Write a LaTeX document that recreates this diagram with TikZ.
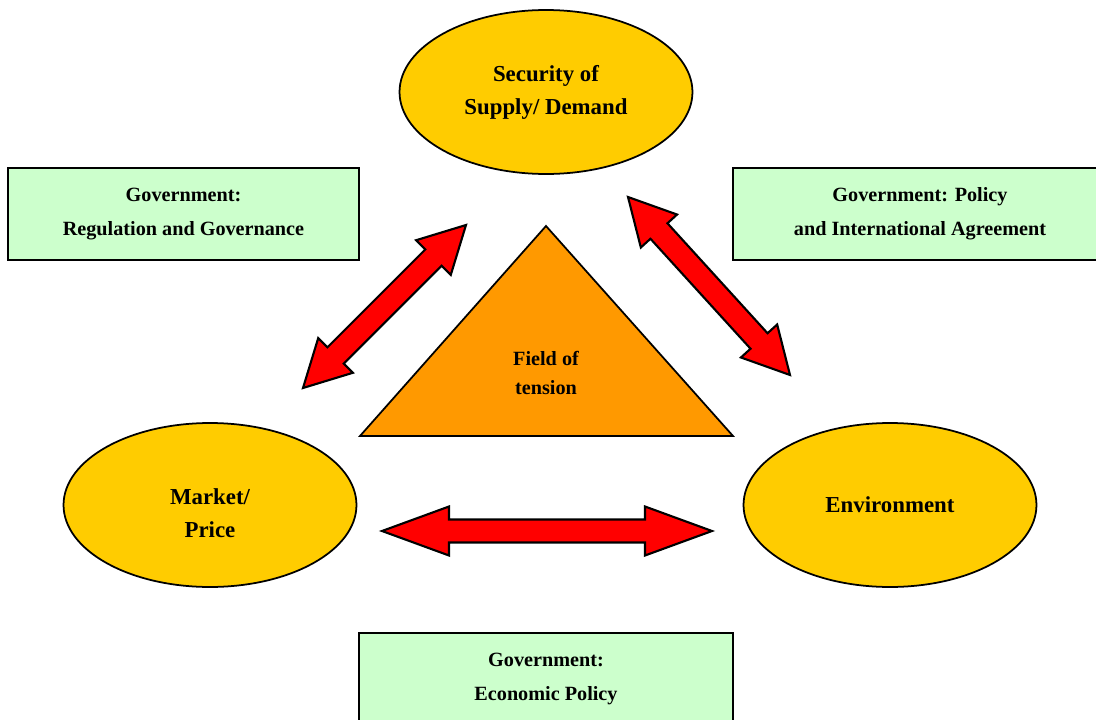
\documentclass[tikz,border=0pt]{standalone}
\usepackage{fontspec}
\setmainfont{Liberation Serif}
\usetikzlibrary{shapes.geometric,calc}

\definecolor{gold}{HTML}{FFCC00}
\definecolor{tensionorange}{HTML}{FF9900}
\definecolor{govgreen}{HTML}{CCFFCC}

% double headed block arrow between two tips, #3 = head length
\newcommand{\fatarrow}[3]{%
  \draw[fat] (#1)
    -- ($(#1)!#3!(#2)!0.49cm!90:(#2)$) -- ($(#1)!#3!(#2)!0.23cm!90:(#2)$)
    -- ($(#2)!#3!(#1)!0.23cm!-90:(#1)$) -- ($(#2)!#3!(#1)!0.49cm!-90:(#1)$)
    -- (#2)
    -- ($(#2)!#3!(#1)!0.49cm!90:(#1)$) -- ($(#2)!#3!(#1)!0.23cm!90:(#1)$)
    -- ($(#1)!#3!(#2)!0.23cm!-90:(#2)$) -- ($(#1)!#3!(#2)!0.49cm!-90:(#2)$)
    -- cycle;}

\begin{document}
\begin{tikzpicture}[x=0.02cm,y=-0.02cm,
    pillar/.style={ellipse,draw,line width=1pt,fill=gold,minimum width=5.86cm,minimum height=3.28cm,
        align=center,font=\fontsize{13}{18.7}\selectfont\bfseries},
    pillartext/.style={align=center,font=\fontsize{13}{18.7}\selectfont\bfseries},
    govbox/.style={rectangle,draw,line width=1pt,fill=govgreen,minimum height=1.84cm,
        align=center,font=\fontsize{11.5}{19.3}\selectfont\bfseries},
    fat/.style={draw,line width=1.2pt,fill=red,line join=miter}]
    \useasboundingbox (0,0) rectangle (1096,720);

    % the three poles
    \node[pillar] (supply) at (546,92) {Security of\\Supply/ Demand};
    \node[pillar] (market) at (210,505) {};
    \node[pillartext] (marketlabel) at (210,513) {Market/\\Price};
    \node[pillar] (environment) at (890,505) {Environment};

    % field of tension in the middle
    \draw[line width=1pt,fill=tensionorange,line join=miter] (546,226) -- (733,436) -- (360,436) -- cycle;
    \node[align=center,font=\fontsize{11.5}{16.4}\selectfont\bfseries] (field) at (546,373) {Field of\\tension};

    % government boxes
    \node[govbox,minimum width=7.02cm] (regulation) at (183.5,214) {Government:\\Regulation and Governance};
    \node[govbox,minimum width=7.48cm] (policy) at (920,214) {Government: Policy\\and International Agreement};
    \node[govbox,minimum width=7.48cm] (economic) at (546,679) {Government:\\Economic Policy};

    % arrow tips
    \coordinate (la1) at (303,388); \coordinate (la2) at (466,225);
    \coordinate (ra1) at (628,197); \coordinate (ra2) at (790,375);
    \coordinate (ha1) at (382,531); \coordinate (ha2) at (712,531);

    \fatarrow{la1}{la2}{0.92cm}
    \fatarrow{ra1}{ra2}{0.92cm}
    \fatarrow{ha1}{ha2}{1.34cm}
\end{tikzpicture}
\end{document}
